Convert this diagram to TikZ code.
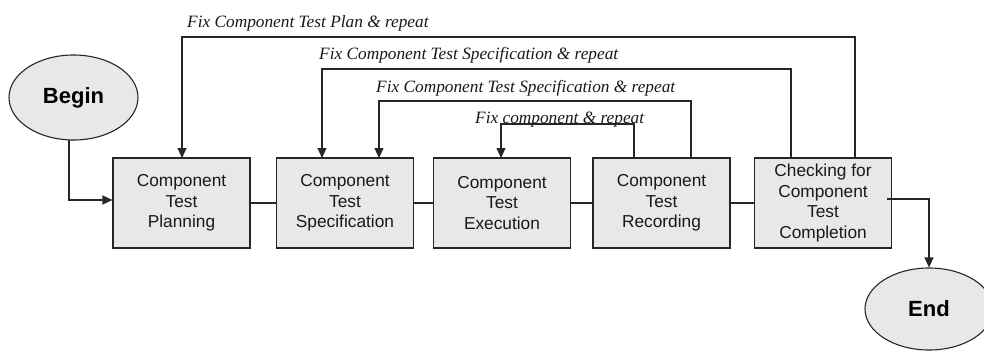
\documentclass[tikz,border=0pt]{standalone}
\usepackage{fontspec}
\setmainfont{Liberation Serif}
\setsansfont{Liberation Sans}
\usetikzlibrary{shapes.geometric,arrows.meta,calc}
\begin{document}
\begin{tikzpicture}[x=1pt,y=-1pt,
  stepbox/.style={draw=black!85, line width=1.1pt, fill=black!9, minimum width=137pt, minimum height=90pt, inner sep=0pt,
    font=\sffamily\fontsize{17.3}{20.7}\selectfont, align=center, text=black!90},
  term/.style={ellipse, draw=black!85, line width=1.1pt, fill=black!9, inner sep=0pt,
    font=\sffamily\bfseries\fontsize{22}{26}\selectfont},
  conn/.style={line width=1.1pt, draw=black!85},
  arr/.style={conn, -{Triangle[length=10pt,width=9pt]}},
  lbl/.style={font=\itshape\fontsize{17.3}{20}\selectfont, anchor=base west, inner sep=0pt, text=black!90}]
\useasboundingbox (0,0) rectangle (984,351);

\node[term, minimum width=129pt, minimum height=85pt] (B) at (73.5,97.5) {Begin};
\node[term, minimum width=128pt, minimum height=82pt] (E) at (929,309) {End};

\node[stepbox] (P1) at (181.5,203) {Component\\Test\\Planning};
\node[stepbox] (P2) at (345,203) {Component\\Test\\Specification};
\node[stepbox] (P3) at (502,203) {Component\\Test\\Execution};
\node[stepbox] (P4) at (661.5,203) {Component\\Test\\Recording};
\node[stepbox] (P5) at (823,203) {Checking for\\Component\\Test\\Completion};

% main chain
\draw[conn] (P1.east) -- (P2.west);
\draw[conn] (P2.east) -- (P3.west);
\draw[conn] (P3.east) -- (P4.west);
\draw[conn] (P4.east) -- (P5.west);

% begin
\coordinate (b0) at (69,139.5);
\draw[arr] (b0) |- ([yshift=3pt]P1.west);

% end
\coordinate (e0) at (887,199);
\draw[arr] (e0) -| (E.north);

% feedback loops
\coordinate (f1s) at (855,158);
\coordinate (f1t) at (182,158);
\draw[arr] (f1s) -- (855,37) -- (182,37) -- (f1t);
\node[lbl] (L1) at (187,27) {Fix Component Test Plan \& repeat};

\coordinate (f2s) at (791,158);
\coordinate (f2t) at (322,158);
\draw[arr] (f2s) -- (791,69) -- (322,69) -- (f2t);
\node[lbl] (L2) at (319,59) {Fix Component Test Specification \& repeat};

\coordinate (f3s) at (691,158);
\coordinate (f3t) at (379,158);
\draw[arr] (f3s) -- (691,101) -- (379,101) -- (f3t);
\node[lbl] (L3) at (376,92) {Fix Component Test Specification \& repeat};

\coordinate (f4s) at (634,158);
\coordinate (f4t) at (501,158);
\draw[arr] (f4s) -- (634,124) -- (501,124) -- (f4t);
\node[lbl] (L4) at (475,123) {Fix component \& repeat};
\end{tikzpicture}
\end{document}
